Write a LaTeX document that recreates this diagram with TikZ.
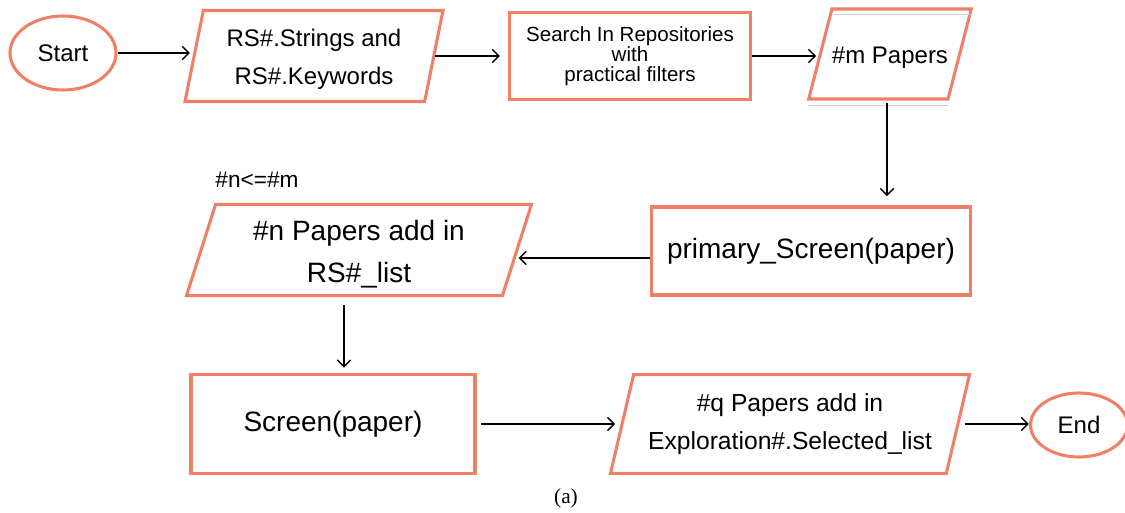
\documentclass[tikz,border=0pt]{standalone}
\usepackage{fontspec}
\setmainfont{Liberation Sans}
\newfontfamily\capfont{Liberation Serif}
\usetikzlibrary{shapes.geometric,arrows.meta}
\definecolor{BoxOrange}{RGB}{239,127,102}
\definecolor{ShadeGray}{RGB}{205,205,205}
\newdimen\pxu
\pxu=0.75pt

\begin{document}
\begin{tikzpicture}[x=0.75pt,y=-0.75pt,
  flowline/.style={line width=1.1pt,-{Straight Barb[length=5pt,width=10pt,line width=1.1pt]}},
  terminal/.style={ellipse,draw=BoxOrange,line width=2.3pt,inner sep=0pt,font=\fontsize{18}{22}\selectfont},
  process/.style={rectangle,draw=BoxOrange,line width=2.3pt,inner sep=0pt,align=center},
  io/.style 2 args={trapezium,trapezium left angle=#1,trapezium right angle=#2,trapezium stretches body,
    draw=BoxOrange,line width=2.3pt,inner xsep=0pt,align=center}]
\useasboundingbox (0,0) rectangle (1125,513);

% top row
\node[terminal,minimum width=106\pxu,minimum height=74\pxu] (start) at (63,53) {Start};
\node[io={78.6}{101.4},inner ysep=9.2pt,minimum width=258\pxu,
  font=\fontsize{18}{28.5}\selectfont] (keys) at (314,56) {\rule{0pt}{17.6pt}RS\#.Strings and\\RS\#.Keywords};
\node[process,minimum width=241\pxu,minimum height=87\pxu,
  font=\fontsize{15.4}{14.8}\selectfont] (search) at (630,56) {Search In Repositories\\with\\practical filters};
\node[io={75.5}{104.5},inner ysep=23.2pt,minimum width=160\pxu,
  font=\fontsize{18}{22}\selectfont] (mpap) at (890,54) {\rule{0pt}{17.4pt}\#m Papers};

% middle row
\node[process,minimum width=319\pxu,minimum height=88\pxu,
  font=\fontsize{21}{26}\selectfont] (prim) at (811,251) {primary\_Screen(paper)};
\node[io={72.3}{107.7},inner ysep=5.7pt,minimum width=345\pxu,
  font=\fontsize{21}{31.5}\selectfont] (npap) at (359,250) {\rule{0pt}{21.3pt}\#n Papers add in\\RS\#\_list};
\node[font=\fontsize{17}{20}\selectfont] (cond) at (257,180) {\#n<=\#m};

% bottom row
\node[process,minimum width=284\pxu,minimum height=99\pxu,
  font=\fontsize{21}{26}\selectfont] (scr) at (333,424) {Screen(paper)};
\node[io={76.8}{103.2},inner ysep=14.4pt,minimum width=359\pxu,
  font=\fontsize{18.5}{28}\selectfont] (qpap) at (790,424) {\#q Papers add in\\Exploration\#.Selected\_list};
\node[terminal,minimum width=97\pxu,minimum height=64\pxu] (finish) at (1079,425) {End};

\node[font=\capfont\fontsize{16}{18}\selectfont] (cap) at (566,498) {(a)};

% faint double edge of #m box
\draw[ShadeGray,line width=0.7pt] ([shift={(3,7)}]mpap.top left corner) -- ([shift={(-1,7)}]mpap.top right corner);
\draw[ShadeGray,line width=0.7pt] ([shift={(1,5)}]mpap.bottom left corner) -- ([shift={(-1,5)}]mpap.bottom right corner);

% connectors
\draw[flowline,shorten >=2pt] (start.east) -- (start.east -| keys.west);
\draw[flowline,shorten >=6pt] (keys.east) -- (keys.east -| search.west);
\draw[flowline,shorten >=2pt] (search.east) -- (search.east -| mpap.west);
\draw[flowline,shorten <=2pt,shorten >=7pt] ([xshift=-3\pxu]mpap.south) -- ([xshift=-3\pxu]mpap.south |- prim.north);
\draw[flowline] ([yshift=-7\pxu]prim.west) -- ([yshift=-7\pxu]prim.west -| npap.east);
\draw[flowline,shorten <=6pt,shorten >=4pt] (npap.bottom side) -- (npap.bottom side |- scr.north);
\draw[flowline,shorten <=3pt,shorten >=4pt] (scr.east) -- (scr.east -| qpap.west);
\draw[flowline,shorten <=4pt] (qpap.east) -- (qpap.east -| finish.west);
\end{tikzpicture}
\end{document}
